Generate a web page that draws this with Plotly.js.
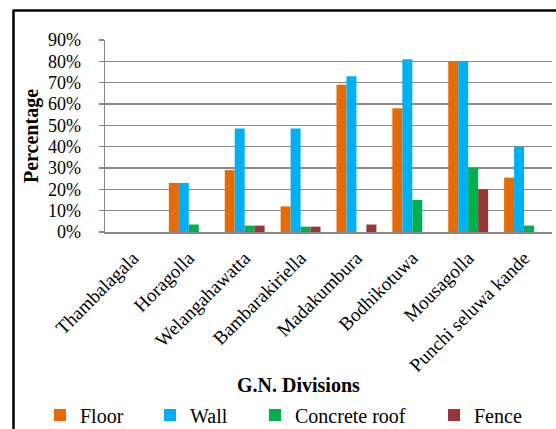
<!DOCTYPE html>
<html>
<head>
<meta charset="utf-8">
<script src="https://cdn.plot.ly/plotly-3.0.1.min.js"></script>
<style>
html,body{margin:0;padding:0;background:#fff;}
#chart{width:556px;height:429px;}
</style>
</head>
<body>
<div id="chart"></div>
<script>
const categories = ["Thambalagala","Horagolla","Welangahawatta","Bambarakiriella","Madakumbura","Bodhikotuwa","Mousagolla","Punchi seluwa kande"];
const floor = [0, 23, 29, 12, 69, 58, 80, 25.5];
const wall = [0, 23, 48.5, 48.5, 73, 81, 80, 40];
const concreteRoof = [0, 3.5, 3, 2.5, 0, 15, 30, 3];
const fence = [0, 0, 3, 2.5, 3.5, 0, 20, 0];
const yTicks = [0,10,20,30,40,50,60,70,80,90];
const yTickText = yTicks.map(v => v + "%");

const serif = "Liberation Serif";
// plot area pixel geometry
const L = 105, R = 552, T = 40, B = 232, W = 556, H = 429;
const px = x => (x - L) / (R - L);
const py = y => (B - y) / (B - T);

function bar(name, y, color, legend) {
  return {type: "bar", name: name, x: categories, y: y,
          marker: {color: color, line: {width: 0}}, legend: legend, hoverinfo: "x+y+name"};
}

const data = [
  bar("Floor", floor, "#E36C09", "legend"),
  bar("Wall", wall, "#00B0F0", "legend2"),
  bar("Concrete roof", concreteRoof, "#00B050", "legend3"),
  bar("Fence", fence, "#953735", "legend4")
];

const legFont = {family: serif, size: 20, color: "#000"};
function leg(xText) {
  return {x: px(xText - 40), xanchor: "left", y: py(415), yanchor: "middle",
          orientation: "h", font: legFont, bgcolor: "rgba(0,0,0,0)", borderwidth: 0,
          itemwidth: 30, tracegroupgap: 0};
}

const layout = {
  width: W, height: H,
  margin: {l: L, r: W - R, t: T, b: H - B, autoexpand: false},
  paper_bgcolor: "#fff", plot_bgcolor: "#fff",
  font: {family: serif, color: "#000"},
  barmode: "group", bargap: 0.286, bargroupgap: 0,
  showlegend: true,
  legend: leg(80), legend2: leg(190), legend3: leg(295), legend4: leg(474),
  xaxis: {
    type: "category", tickangle: -45, automargin: false,
    showline: true, linecolor: "#8a8a8a", linewidth: 1.5,
    ticks: "", showgrid: false,
    tickfont: {family: serif, size: 19, color: "#000"},
    ticklabelstandoff: 6
  },
  yaxis: {
    range: [0, 90], tickvals: yTicks, ticktext: yTickText, automargin: false,
    showline: true, linecolor: "#8a8a8a", linewidth: 1.5,
    ticks: "outside", ticklen: 5, tickcolor: "#8a8a8a", tickwidth: 1.5,
    showgrid: true, gridcolor: "#8a8a8a", gridwidth: 1.5, zeroline: false,
    tickfont: {family: serif, size: 18, color: "#000"},
    ticklabelstandoff: 14,
    title: {text: "<b>Percentage</b>", font: {family: serif, size: 20, color: "#000"}, standoff: 4}
  },
  annotations: [{
    text: "<b>G.N. Divisions</b>", xref: "paper", yref: "paper",
    x: px(298), y: py(385), xanchor: "center", yanchor: "middle", showarrow: false,
    font: {family: serif, size: 20, color: "#000"}
  }],
  shapes: [
    {type: "line", xref: "paper", yref: "paper", x0: px(13.5), x1: px(560), y0: py(10.5), y1: py(10.5), line: {color: "#000", width: 2.5}},
    {type: "line", xref: "paper", yref: "paper", x0: px(13.5), x1: px(13.5), y0: py(9.5), y1: py(432), line: {color: "#000", width: 2.5}}
  ]
};

Plotly.newPlot("chart", data, layout, {displayModeBar: false, staticPlot: true});
</script>
</body>
</html>
